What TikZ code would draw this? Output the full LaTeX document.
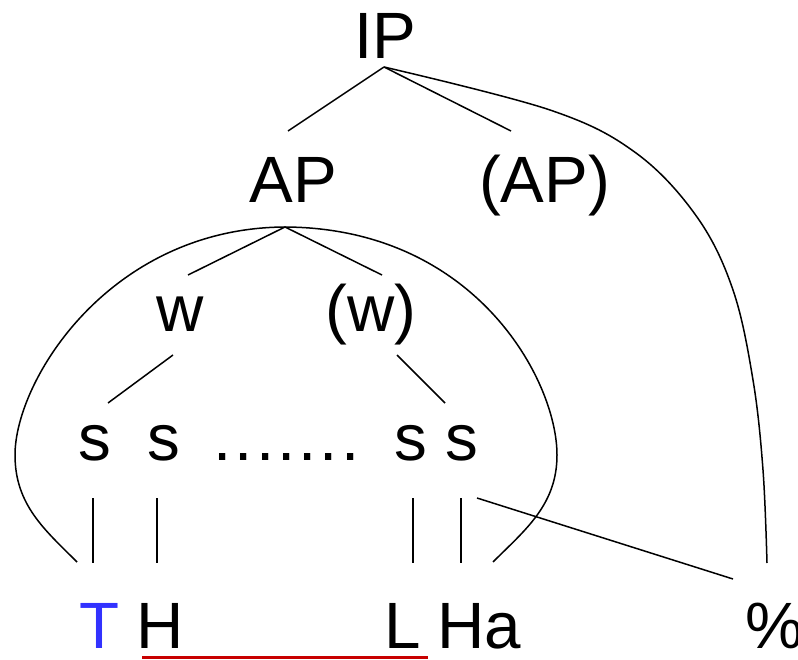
\documentclass[tikz,border=0pt]{standalone}
\usepackage{fontspec}
\setmainfont{Liberation Sans}
\definecolor{tblue}{RGB}{50,50,255}
\definecolor{ured}{RGB}{200,0,0}
\newcommand{\dk}{\kern3pt}
\begin{document}
\begin{tikzpicture}[x=1pt,y=-1pt,
  lab/.style={inner sep=0pt,anchor=base,font=\fontsize{65.5}{70}\selectfont},
  edge/.style={line width=1.5pt,black},
  arc/.style={line width=1.5pt,black}]
\useasboundingbox (0,0) rectangle (798,660);
% labels
\node[lab] (IP) at (385.5,59) {IP};
\node[lab] (AP) at (293,203) {AP};
\node[lab] (AP2) at (544.5,203) {(AP)};
\node[lab] (w1) at (180,332) {w};
\node[lab] (w2) at (371,332) {(w)};
\node[lab] (s1) at (95,460) {s};
\node[lab] (s2) at (164,460) {s};
\node[lab] (dots) at (286.5,460) {.\dk.\dk.\dk.\dk.\dk.\dk.};
\node[lab] (s3) at (411,460) {s};
\node[lab] (s4) at (462,460) {s};
\node[lab,text=tblue] (T) at (99.5,648) {T};
\node[lab] (H) at (160,648) {H};
\node[lab] (L) at (403,648) {L};
\node[lab] (Ha) at (479.5,648) {Ha};
\node[lab] (pc) at (775,648) {\%};
% attachment points
\coordinate (IPb) at (384,67);
\coordinate (APt) at (288,131);
\coordinate (AP2t) at (511,131);
\coordinate (APb) at (285,227);
\coordinate (w1t) at (188,275);
\coordinate (w2t) at (382,275);
\coordinate (w1b) at (173,355);
\coordinate (s1t) at (108,403);
\coordinate (w2b) at (397,355);
\coordinate (s4t) at (445,403);
\coordinate (s1b) at (93,498);
\coordinate (T1) at (93,563);
\coordinate (s2b) at (157,498);
\coordinate (H1) at (157,563);
\coordinate (s3b) at (413,498);
\coordinate (L1) at (413,563);
\coordinate (s4b) at (461,498);
\coordinate (Ha1) at (461,563);
\coordinate (s4r) at (477,498);
\coordinate (pct) at (733,579);
\coordinate (pcu) at (767,563);
\coordinate (Tl) at (77,562);
\coordinate (Hal) at (493,562);
\coordinate (archL) at (15,455);
\coordinate (archR) at (557,455);
% tree lines
\draw[edge] (IPb) -- (APt);
\draw[edge] (IPb) -- (AP2t);
\draw[edge] (APb) -- (w1t);
\draw[edge] (APb) -- (w2t);
\draw[edge] (w1b) -- (s1t);
\draw[edge] (w2b) -- (s4t);
\draw[edge] (s1b) -- (T1);
\draw[edge] (s2b) -- (H1);
\draw[edge] (s3b) -- (L1);
\draw[edge] (s4b) -- (Ha1);
\draw[edge] (s4r) -- (pct);
% curves
\draw[arc,smooth,tension=0.6] plot coordinates {(384,67) (550,110) (636,153) (697,217) (733,290) (753,380) (763,470) (767,563)};
\draw[arc] (APb) .. controls (110,228) and (15,380) .. (archL)
                 .. controls (15,505) and (45,530) .. (Tl);
\draw[arc] (APb) .. controls (475,228) and (557,380) .. (archR)
                 .. controls (557,505) and (525,530) .. (Hal);
% underline
\draw[line width=3pt,ured] (142,657) -- (428,657);
\end{tikzpicture}
\end{document}
